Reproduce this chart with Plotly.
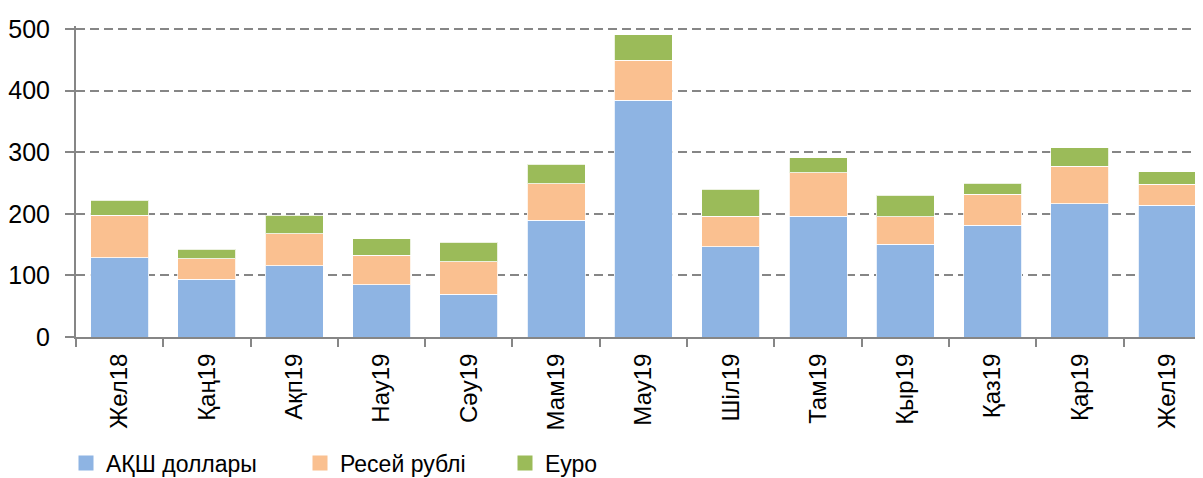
import plotly.graph_objects as go

categories = ["Жел18", "Қаң19", "Ақп19", "Нау19", "Сәу19", "Мам19", "Мау19",
              "Шіл19", "Там19", "Қыр19", "Қаз19", "Қар19", "Жел19"]
usd = [128.7, 94.0, 115.7, 84.9, 69.8, 189.4, 384.7, 146.6, 196.4, 150.4, 181.8, 216.4, 214.3]
rub = [69.3, 33.0, 52.0, 47.7, 52.0, 59.6, 65.0, 49.3, 70.3, 44.9, 50.2, 60.6, 34.1]
eur = [24.0, 15.3, 30.3, 27.0, 31.9, 31.3, 41.1, 43.8, 24.3, 35.2, 18.0, 30.3, 19.9]
series_names = ["АҚШ доллары", "Ресей рублі", "Еуро"]
y_ticks = [0, 100, 200, 300, 400, 500]

colors = ["#8EB4E3", "#FAC090", "#9BBB59"]
FONT = "Liberation Sans, Arial, sans-serif"

# page body has an 8px default margin, so the figure is offset by 8px
OFF = 8
W, H = 1203 - OFF, 478 - OFF
ml, mr, mt, mb = 76 - OFF, 0, 26 - OFF, 478 - 337
plot_w = W - ml - mr
plot_h = H - mt - mb

fig = go.Figure()
legends = ["legend", "legend2", "legend3"]
for vals, name, col in zip([usd, rub, eur], series_names, colors):
    fig.add_trace(go.Bar(
        x=categories, y=vals, name=name, showlegend=False,
        marker=dict(color=col, line=dict(color="rgba(255,255,255,0.8)", width=1)),
        width=0.665,
    ))
# legend entries with larger square swatches
for name, col, lg in zip(series_names, colors, legends):
    fig.add_trace(go.Scatter(
        x=[None], y=[None], mode="markers", name=name, legend=lg,
        marker=dict(symbol="square", size=15, color=col),
    ))

def leg_x(px):
    return (px - OFF - ml) / plot_w

leg_y = (337 - 463) / plot_h
legend_common = dict(
    orientation="h", yanchor="middle", xanchor="left", y=leg_y,
    font=dict(family=FONT, size=23, color="#000000"),
    bgcolor="rgba(0,0,0,0)", borderwidth=0, itemclick=False,
)

fig.update_layout(
    width=W, height=H,
    margin=dict(l=ml, r=mr, t=mt, b=mb, pad=0, autoexpand=False),
    barmode="stack",
    plot_bgcolor="white", paper_bgcolor="white",
    showlegend=True,
    legend=dict(x=leg_x(66), **legend_common),
    legend2=dict(x=leg_x(300), **legend_common),
    legend3=dict(x=leg_x(505), **legend_common),
    font=dict(family=FONT, color="#000000"),
)

fig.update_xaxes(
    type="category",
    categoryorder="array", categoryarray=categories,
    range=[-0.5, 12.41],
    tickangle=-90,
    tickson="boundaries",
    ticks="outside", ticklen=8, tickwidth=2, tickcolor="#868686",
    showline=True, linecolor="#868686", linewidth=2,
    showgrid=False,
    automargin=False,
    tickfont=dict(family=FONT, size=24, color="#000000"),
    ticklabelstandoff=5,
)
fig.update_yaxes(
    range=[0, 505],
    tickvals=y_ticks,
    ticks="outside", ticklen=9, tickwidth=2, tickcolor="#868686",
    showline=True, linecolor="#868686", linewidth=2,
    showgrid=True, gridcolor="#868686", gridwidth=1.5, griddash="9px,5px",
    zeroline=False,
    automargin=False,
    tickfont=dict(family=FONT, size=25, color="#000000"),
    ticklabelstandoff=10,
)

fig.write_html("out.html")
